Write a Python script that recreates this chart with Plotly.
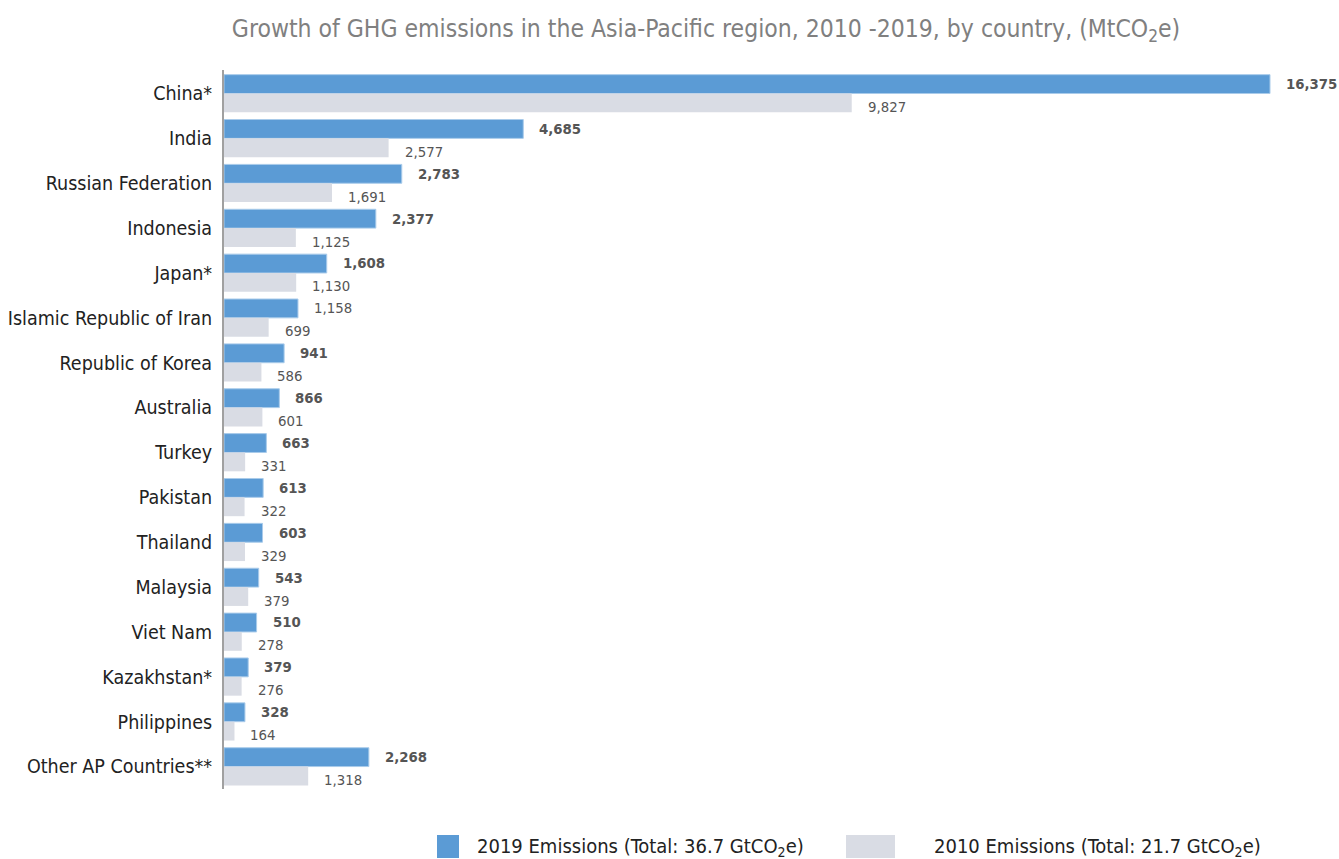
import plotly.graph_objects as go

countries = ["China*", "India", "Russian Federation", "Indonesia", "Japan*",
             "Islamic Republic of Iran", "Republic of Korea", "Australia", "Turkey",
             "Pakistan", "Thailand", "Malaysia", "Viet Nam", "Kazakhstan*",
             "Philippines", "Other AP Countries**"]
em2019 = [16375, 4685, 2783, 2377, 1608, 1158, 941, 866, 663, 613, 603, 543, 510, 379, 328, 2268]
em2010 = [9827, 2577, 1691, 1125, 1130, 699, 586, 601, 331, 322, 329, 379, 278, 276, 164, 1318]
bold2019 = [True, True, True, True, True, False, True, True, True, True, True, True, True, True, True, True]

W, H = 1339, 859
L, R, T, B = 224, 10, 70, 70
FONT = "Liberation Sans Narrow, DejaVu Sans Condensed, Arial Narrow, sans-serif"
BLUE = "#5B9BD5"
GREY = "#D9DCE4"

fig = go.Figure()
fig.add_trace(go.Bar(y=countries, x=em2019, orientation="h", name="2019",
                     marker=dict(color=BLUE, line=dict(color="#A9CBEA", width=1)),
                     showlegend=False, hoverinfo="x+y"))
fig.add_trace(go.Bar(y=countries, x=em2010, orientation="h", name="2010",
                     marker=dict(color=GREY, line=dict(width=0)),
                     showlegend=False, hoverinfo="x+y"))

ann = []
for c, v, b in zip(countries, em2019, bold2019):
    t = f"{v:,}"
    ann.append(dict(x=v, y=c, xref="x", yref="y", text=f"<b>{t}</b>" if b else t,
                    showarrow=False, xanchor="left", yanchor="middle", xshift=14, yshift=10,
                    font=dict(family=FONT, size=14.8, color="#555555")))
for c, v in zip(countries, em2010):
    ann.append(dict(x=v, y=c, xref="x", yref="y", text=f"{v:,}",
                    showarrow=False, xanchor="left", yanchor="middle", xshift=14, yshift=-13,
                    font=dict(family=FONT, size=14.8, color="#555555")))

pw = W - L - R
ph = H - T - B
def px2x(p):
    return (p - L) / pw
def py2y(p):
    return (H - B - p) / ph

shapes = [
    dict(type="rect", xref="paper", yref="paper", x0=px2x(437), x1=px2x(459),
         y0=py2y(858), y1=py2y(835), fillcolor=BLUE, line=dict(width=0)),
    dict(type="rect", xref="paper", yref="paper", x0=px2x(846), x1=px2x(895),
         y0=py2y(858), y1=py2y(835), fillcolor=GREY, line=dict(width=0)),
]
ann.append(dict(xref="paper", yref="paper", x=px2x(475), y=py2y(847), xanchor="left",
                yanchor="middle", showarrow=False,
                text="2019 Emissions (Total: 36.7 GtCO<sub>2</sub>e)",
                font=dict(family=FONT, size=20, color="#222222")))
ann.append(dict(xref="paper", yref="paper", x=px2x(932), y=py2y(847), xanchor="left",
                yanchor="middle", showarrow=False,
                text="2010 Emissions (Total: 21.7 GtCO<sub>2</sub>e)",
                font=dict(family=FONT, size=20, color="#222222")))

scale = (1270 - 224) / 16375.0
xmax = pw / scale

fig.update_layout(
    width=W, height=H,
    margin=dict(l=L, r=R, t=T, b=B),
    paper_bgcolor="white", plot_bgcolor="white",
    barmode="group", bargap=0.16, bargroupgap=0,
    title=dict(text="Growth of GHG emissions in the Asia-Pacific region, 2010 -2019, by country, (MtCO<sub>2</sub>e)",
               x=706 / W, xanchor="center", y=1 - 28 / H, yanchor="middle",
               font=dict(family=FONT, size=24.5, color="#808080")),
    xaxis=dict(range=[0, xmax], showgrid=False, zeroline=False, showticklabels=False,
               showline=False, fixedrange=True, automargin=False),
    yaxis=dict(autorange="reversed", showgrid=False, zeroline=False, showline=True,
               linecolor="#A0A0A0", linewidth=2, ticks="", ticklabelstandoff=6,
               automargin=False,
               tickfont=dict(family=FONT, size=19.5, color="#222222")),
    annotations=ann, shapes=shapes,
)

fig.write_html("out.html")
